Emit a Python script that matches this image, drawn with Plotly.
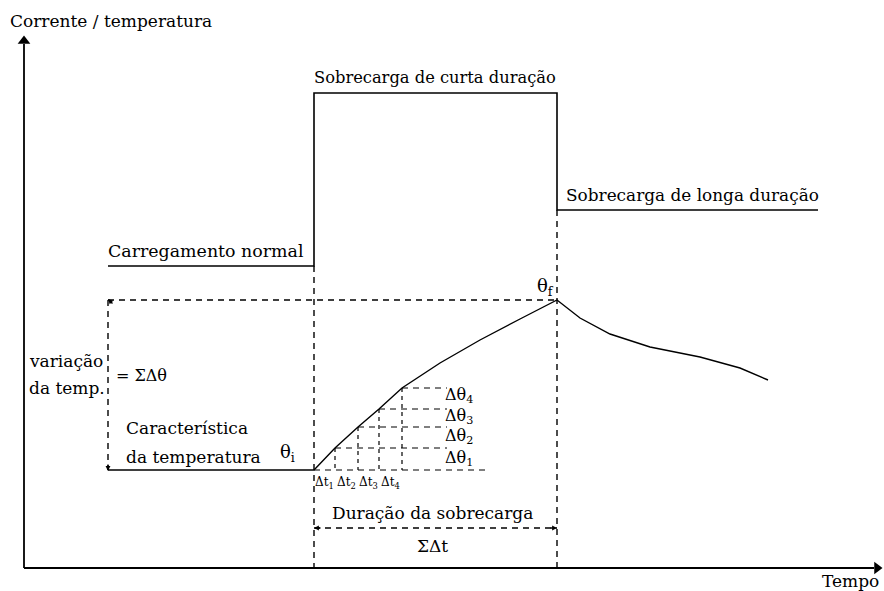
import plotly.graph_objects as go

# ---- data (diagram units: x = time, y = screen-down level) ----
current_x = [108, 314, 314, 557, 557, 818]
current_y = [266, 266, 93, 93, 210, 210]

temp_x = [108, 314, 335, 358, 379, 402, 440, 480, 520, 557, 580, 610, 650, 700, 740, 768]
temp_y = [470, 470, 448, 427, 409, 388, 363, 340, 319, 300, 318, 334, 347, 357, 368, 380]

step_x = [335, 358, 379, 402]          # Δt boundaries
step_y = [448, 427, 409, 388]          # Δθ levels
dtheta_labels = ["Δθ<sub>1</sub>", "Δθ<sub>2</sub>", "Δθ<sub>3</sub>", "Δθ<sub>4</sub>"]
dt_labels = ["Δt<sub>1</sub>", "Δt<sub>2</sub>", "Δt<sub>3</sub>", "Δt<sub>4</sub>"]

t_start, t_end = 314, 557
theta_i_level, theta_f_level = 470, 300

FONT = "DejaVu Serif"
fig = go.Figure()

def line(xs, ys, dash="solid", width=1.4):
    fig.add_trace(go.Scatter(x=xs, y=ys, mode="lines", hoverinfo="skip",
                             line=dict(color="black", width=width, dash=dash),
                             showlegend=False))

DASH = "6px,5px"
# axes
line([24, 24], [568, 44], width=1.8)
line([24, 874], [568, 568], width=1.8)
# axis arrowheads
fig.add_trace(go.Scatter(x=[24, 877], y=[41, 568], mode="markers", hoverinfo="skip",
                         showlegend=False,
                         marker=dict(symbol=["triangle-up", "triangle-right"], size=11,
                                     color="black", line=dict(width=0))))
# current and temperature
line(current_x, current_y, width=1.6)
line(temp_x, temp_y, width=1.4)
# dashed guides
line([108, t_end], [theta_f_level, theta_f_level], DASH)
line([108, 108], [theta_f_level, theta_i_level], DASH)
line([t_start, t_start], [266, 568], DASH)
line([t_end, t_end], [210, 568], DASH)
line([t_start, t_end], [528, 528], DASH)
for sx, sy in zip(step_x, step_y):
    line([sx, 447], [sy, sy], DASH, 1.2)
    line([sx, sx], [sy, theta_i_level], "4px,4px", 1.2)
line([t_start, 490], [theta_i_level, theta_i_level], DASH, 1.2)

ann = []
def text(x, y, s, size=17, xanchor="left"):
    ann.append(dict(x=x, y=y, text=s, showarrow=False, xanchor=xanchor, yanchor="middle",
                    font=dict(family=FONT, size=size, color="black")))

def arrow(x, y, ax, ay, size=1):
    ann.append(dict(x=x, y=y, ax=ax, ay=ay, axref="x", ayref="y", text="", showarrow=True,
                    arrowhead=2, arrowsize=size, arrowwidth=1.4, arrowcolor="black"))

arrow(108, 299, 114, 305, 0.7)
arrow(108, 471, 108, 463, 0.7)
arrow(t_start, 528, 322, 528, 0.7)
arrow(t_end, 528, 549, 528, 0.7)

text(8, 21, "Corrente / temperatura", 17)
text(881, 581, "Tempo", 17, "right")
text(312, 77, "Sobrecarga de curta duração", 16.3)
text(564, 195, "Sobrecarga de longa duração", 16.9)
text(106, 251, "Carregamento normal", 17.4)
text(27, 361, "variação", 17)
text(27, 388, "da temp.", 17)
text(114, 375, "= ΣΔθ", 16)
text(124, 428, "Característica", 17)
text(124, 457, "da temperatura", 17)
text(278, 453, "θ<sub>i</sub>", 18)
text(535, 287, "θ<sub>f</sub>", 18)
text(432, 513, "Duração da sobrecarga", 17, "center")
text(432, 546, "ΣΔt", 17, "center")
for lbl, yy in zip(dtheta_labels, [458, 436, 416, 395]):
    text(443, yy, lbl, 16)
for lbl, xx in zip(dt_labels, [324, 346, 368, 390]):
    text(xx, 483, lbl, 12, "center")

fig.update_layout(
    width=884, height=591, margin=dict(l=0, r=0, t=0, b=0),
    paper_bgcolor="white", plot_bgcolor="white", annotations=ann,
    xaxis=dict(range=[0, 884], visible=False, fixedrange=True),
    yaxis=dict(range=[591, 0], visible=False, fixedrange=True),
)
fig.write_html("out.html", config={"displayModeBar": False},
               post_script="document.body.style.margin='0';document.body.style.overflow='hidden';")
